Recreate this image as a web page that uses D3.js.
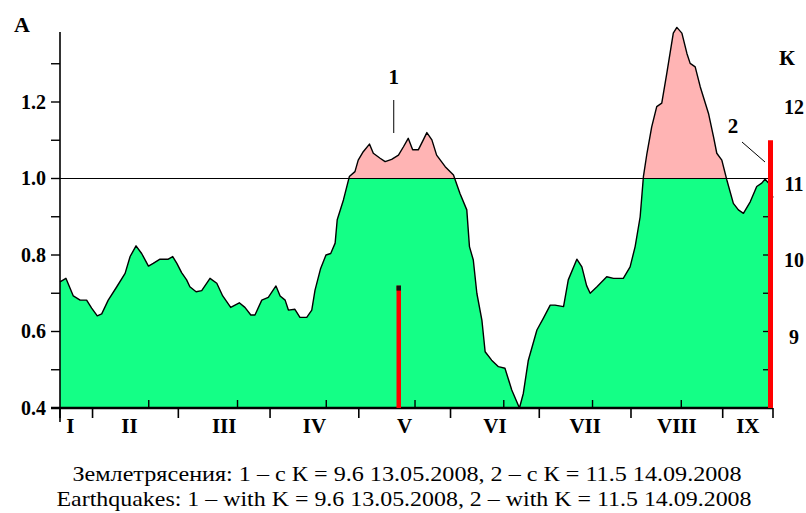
<!DOCTYPE html>
<html><head><meta charset="utf-8">
<script src="https://cdn.jsdelivr.net/npm/d3@7"></script>
<style>body{margin:0;background:#fff}svg{display:block}</style>
</head><body><svg id="c" width="806" height="513"></svg>
<script>
// ---- data (day index counted from 21.01.2008) ----
const dayIndex = [0.0,2.0,4.5,6.8,9.0,10.7,12.6,14.1,16.3,19.2,22.0,23.7,25.7,27.6,29.9,31.5,33.8,36.6,38.1,39.5,41.1,42.8,43.9,46.0,47.9,50.7,53.0,55.0,57.7,60.6,62.5,64.5,65.9,68.2,70.4,73.0,74.4,76.1,77.2,79.4,81.1,83.4,85.1,86.2,88.1,89.9,91.5,93.0,93.7,95.8,97.8,99.7,100.8,102.5,104.6,105.9,108.2,109.9,112.1,114.4,116.1,117.7,119.2,121.1,122.8,124.0,125.7,127.3,130.2,133.0,135.2,137.5,138.4,139.7,140.9,142.6,143.7,145.9,148.2,150.4,152.7,155.3,156.6,158.3,161.2,163.4,165.7,167.3,170.2,171.8,174.7,176.4,178.0,179.2,181.5,184.8,187.1,190.4,192.7,194.4,196.1,197.2,198.4,200.0,201.7,203.4,205.1,207.3,208.5,210.2,211.9,213.0,214.7,216.4,219.2,220.9,222.0,223.7,225.4,227.6,229.3,231.0,233.3,235.5,237.2,238.3,239.5,240.4,241.0];
const amplitude = [0.730,0.739,0.693,0.682,0.682,0.661,0.641,0.646,0.682,0.717,0.752,0.796,0.824,0.804,0.771,0.778,0.789,0.789,0.796,0.778,0.754,0.735,0.717,0.704,0.707,0.739,0.726,0.693,0.663,0.675,0.663,0.643,0.643,0.682,0.689,0.719,0.693,0.682,0.656,0.658,0.637,0.637,0.656,0.708,0.765,0.800,0.804,0.831,0.892,0.944,1.005,1.018,1.048,1.070,1.090,1.066,1.053,1.044,1.050,1.061,1.083,1.105,1.075,1.075,1.101,1.120,1.101,1.061,1.031,1.009,0.961,0.918,0.822,0.787,0.700,0.630,0.547,0.525,0.508,0.504,0.447,0.400,0.438,0.525,0.604,0.635,0.669,0.669,0.665,0.735,0.789,0.769,0.720,0.700,0.717,0.743,0.739,0.739,0.769,0.822,0.900,1.005,1.066,1.135,1.188,1.197,1.275,1.380,1.395,1.380,1.327,1.301,1.292,1.240,1.170,1.109,1.066,1.048,0.996,0.935,0.918,0.909,0.939,0.979,0.988,0.998,0.988,0.961,0.950];
const monthStarts = [0,11,40,71,101,132,162,193,224,241];
const monthLabels = ["I","II","III","IV","V","VI","VII","VIII","IX"];
const midTicks = [30,60,90,120,150,180,210];
const aMajorTicks = [0.4,0.6,0.8,1.0,1.2];
const aMinorTicks = [0.5,0.7,0.9,1.1,1.3];
const rightTicks = [0.5,0.6,0.7,0.8,0.9];
const kTicks = [9,10,11,12];
const quakeLabels = ["1","2"];
const quakeDays = [114.5,241];
const quakeK = [9.6,11.5];
const threshold = 1.0;
const captionLines = [
  "Землетрясения: 1 – с К = 9.6 13.05.2008, 2 – с К = 11.5 14.09.2008",
  "Earthquakes: 1 – with K = 9.6 13.05.2008, 2 – with K = 11.5 14.09.2008"
];

// ---- drawing ----
const svg = d3.select("#c");
const serif = "'Liberation Serif','Times New Roman',serif";
const x = d3.scaleLinear().domain([0,241]).range([60,773]);
const y = d3.scaleLinear().domain([0.4,1.4]).range([408,25.5]);
const kScale = d3.scaleLinear().domain([9,12]).range([y(0.6), y(1.2)]);
const data = dayIndex.map((d,i)=>({d, a: amplitude[i]}));

const defs = svg.append("defs");
defs.append("clipPath").attr("id","below").append("rect")
  .attr("x",0).attr("y",y(threshold)).attr("width",806).attr("height",y(0.4)-y(threshold));
defs.append("clipPath").attr("id","above").append("rect")
  .attr("x",0).attr("y",0).attr("width",806).attr("height",y(threshold));

const area = d3.area().x(d=>x(d.d)).y0(y(0.4)).y1(d=>y(d.a));
svg.append("path").datum(data).attr("d",area).attr("fill","#14ff86").attr("clip-path","url(#below)");
svg.append("path").datum(data).attr("d",area).attr("fill","#ffb4b4").attr("clip-path","url(#above)");

// threshold line
svg.append("line").attr("x1",x(0)).attr("x2",x(241)).attr("y1",y(threshold)).attr("y2",y(threshold))
  .attr("stroke","#000").attr("stroke-width",1);

// outline
svg.append("path").datum(data).attr("d",d3.line().x(d=>x(d.d)).y(d=>y(d.a)))
  .attr("fill","none").attr("stroke","#000").attr("stroke-width",1.4).attr("stroke-linejoin","round");

// left axis
svg.append("line").attr("x1",60).attr("x2",60).attr("y1",y(1.383)).attr("y2",y(0.4)+14)
  .attr("stroke","#000").attr("stroke-width",1.6);
svg.selectAll(".ltick").data(aMajorTicks.concat(aMinorTicks)).join("line")
  .attr("x1",51).attr("x2",60).attr("y1",d=>y(d)).attr("y2",d=>y(d))
  .attr("stroke","#000").attr("stroke-width",1.4);
svg.selectAll(".llab").data(aMajorTicks).join("text")
  .attr("x",46).attr("y",d=>y(d)).attr("dy","0.34em").attr("text-anchor","end")
  .attr("font-family",serif).attr("font-weight","bold").attr("font-size",20)
  .text(d=>d.toFixed(1));
svg.append("text").attr("x",14).attr("y",32).attr("font-family",serif).attr("font-weight","bold")
  .attr("font-size",22).text("A");

// right ticks (A) and K labels
svg.selectAll(".rtick").data(rightTicks).join("line")
  .attr("x1",763).attr("x2",773).attr("y1",d=>y(d)).attr("y2",d=>y(d))
  .attr("stroke","#000").attr("stroke-width",1.3);
svg.selectAll(".klab").data(kTicks).join("text")
  .attr("x",794).attr("y",d=>kScale(d)+12).attr("text-anchor","middle")
  .attr("font-family",serif).attr("font-weight","bold").attr("font-size",20)
  .text(d=>d);
svg.append("text").attr("x",787).attr("y",65).attr("text-anchor","middle").attr("font-family",serif)
  .attr("font-weight","bold").attr("font-size",22).text("К");

// x axis
svg.append("line").attr("x1",51).attr("x2",x(241)).attr("y1",y(0.4)).attr("y2",y(0.4))
  .attr("stroke","#000").attr("stroke-width",2.4);
svg.selectAll(".mtick").data(monthStarts).join("line")
  .attr("x1",d=>x(d)).attr("x2",d=>x(d)).attr("y1",y(0.4)).attr("y2",y(0.4)+10)
  .attr("stroke","#000").attr("stroke-width",1.6);
svg.selectAll(".utick").data(midTicks).join("line")
  .attr("x1",d=>x(d)).attr("x2",d=>x(d)).attr("y1",y(0.4)).attr("y2",y(0.4)-8)
  .attr("stroke","#000").attr("stroke-width",1.4);
svg.selectAll(".mlab").data(monthLabels).join("text")
  .attr("x",(d,i)=>x((monthStarts[i]+monthStarts[i+1])/2) - (i<2?6:0)).attr("y",433)
  .attr("text-anchor","middle").attr("font-family",serif).attr("font-weight","bold").attr("font-size",21)
  .text(d=>d);

// earthquakes
quakeDays.forEach((qd,i)=>{
  const w = i===0 ? 4.5 : 5;
  svg.append("line").attr("x1",x(qd)-(i===0?0:w/2)).attr("x2",x(qd)-(i===0?0:w/2))
    .attr("y1",kScale(quakeK[i])).attr("y2",y(0.4))
    .attr("stroke","#ff0000").attr("stroke-width",w);
  if(i===0){
    svg.append("rect").attr("x",x(qd)-w/2).attr("y",kScale(quakeK[i])).attr("width",w).attr("height",5)
      .attr("fill","#111");
  }
});
// annotations
const q1x = x(quakeDays[0]) - 5;
svg.append("text").attr("x",q1x).attr("y",84).attr("text-anchor","middle").attr("font-family",serif)
  .attr("font-weight","bold").attr("font-size",21).text(quakeLabels[0]);
svg.append("line").attr("x1",q1x).attr("x2",q1x).attr("y1",100).attr("y2",133).attr("stroke","#000").attr("stroke-width",1);
const q2x = x(quakeDays[1]);
svg.append("text").attr("x",q2x-40).attr("y",133).attr("text-anchor","middle").attr("font-family",serif)
  .attr("font-weight","bold").attr("font-size",21).text(quakeLabels[1]);
svg.append("line").attr("x1",q2x-31).attr("x2",q2x-8).attr("y1",142).attr("y2",162).attr("stroke","#000").attr("stroke-width",1);

// caption
const capX = [407,404], capY = [481,506], capW = [669,695];
svg.selectAll(".cap").data(captionLines).join("text")
  .attr("x",(d,i)=>capX[i]-capW[i]/2).attr("y",(d,i)=>capY[i])
  .attr("textLength",(d,i)=>capW[i]).attr("lengthAdjust","spacingAndGlyphs")
  .attr("font-family",serif).attr("font-size",22).text(d=>d);
</script></body></html>
